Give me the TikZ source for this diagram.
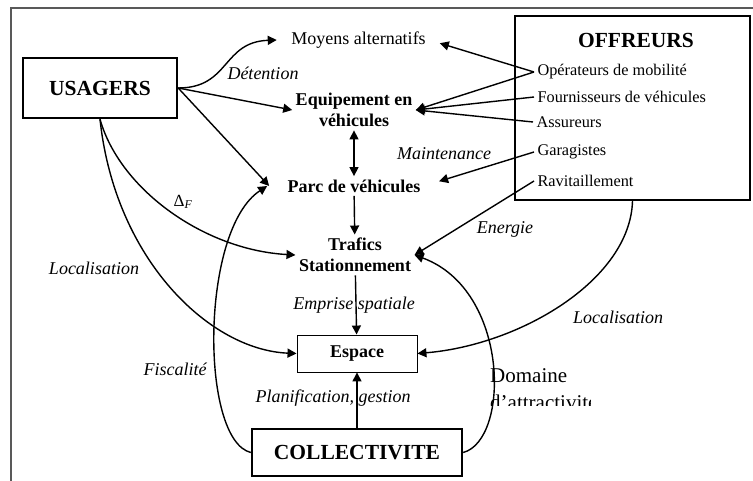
\documentclass[tikz,border=0pt]{standalone}
\usepackage{fontspec}
\setmainfont{Liberation Serif}
\usetikzlibrary{arrows.meta}
\tikzset{
	>={Triangle[length=9pt,width=9pt]},
	arr/.style={line width=1.4pt, ->},
	box/.style={draw, line width=2.4pt, font=\fontsize{21.5}{24}\selectfont\bfseries},
	bnode/.style={align=center, font=\fontsize{18}{21}\selectfont\bfseries},
	item/.style={anchor=west, font=\fontsize{16.3}{19}\selectfont},
	lbl/.style={font=\fontsize{18}{21}\selectfont\itshape},
}

\begin{document}
\begin{tikzpicture}[x=1pt, y=-1pt]
			%%%%% START %%%%%
			
			\useasboundingbox (0,0) rectangle (753,481);
			\draw[black!65, line width=1.4pt] (11,481) -- (11,8) -- (753,8);
			
			\node[box, minimum width=154, minimum height=60] (usagers) at (100,88) {USAGERS};
			\node[draw, line width=2.4pt, minimum width=235, minimum height=184] (offreurs) at (632.5,108) {};
			\node[font=\fontsize{21.5}{24}\selectfont\bfseries] (offtitle) at (636,40) {OFFREURS};
			\node[box, minimum width=210, minimum height=47] (collectivite) at (357,452.5) {COLLECTIVITE};
			
			\node[font=\fontsize{18}{21}\selectfont] (moyens) at (358.5,40) {Moyens alternatifs};
			\node[bnode] (equip) at (354,110) {Equipement en\\véhicules};
			\node[bnode] (parc) at (354,186) {Parc de véhicules};
			\node[bnode] (trafics) at (355,255) {Trafics\\Stationnement};
			\node[bnode, draw, line width=0.9pt, minimum width=120, minimum height=37] (espace) at (357,353.5) {Espace};
			
			\node[item] (operateurs) at (534,72) {Opérateurs de mobilité};
			\node[item] (fournisseurs) at (534,97) {Fournisseurs de véhicules};
			\node[item] (assureurs) at (533,122) {Assureurs};
			\node[item] (garagistes) at (534,152) {Garagistes};
			\node[item] (ravitaillement) at (534,181) {Ravitaillement};
			
			\draw[arr] (usagers.east) .. controls (230,88) and (222,42) .. ([xshift=-11pt]moyens.west);
			\draw[arr] (usagers.east) -- (equip.west);
			\draw[arr] (usagers.east) -- ([xshift=-15pt]parc.west);
			\draw[arr] (usagers.south) .. controls (120,190) and (205,250) .. (trafics.west);
			\draw[arr] (usagers.south) .. controls (115,260) and (210,350) .. (espace.west);
			
			\draw[arr, <->] (equip) -- (parc);
			\draw[arr] (parc) -- (trafics);
			\draw[arr] (trafics) -- (espace);
			\draw[arr] (collectivite) -- (espace);
			
			\draw[arr] (collectivite.west) .. controls (200,440) and (200,230) .. ([xshift=-17pt]parc.west);
			\draw[arr] (collectivite.east) .. controls (510,440) and (510,290) .. (trafics.east);
			\draw[arr] (offreurs.south) .. controls (630,280) and (520,345) .. (espace.east);
			
			\draw[arr, shorten >=11pt] (operateurs.west) -- (moyens.east);
			\draw[arr] (operateurs.west) -- (equip.east);
			\draw[arr] (fournisseurs.west) -- (equip.east);
			\draw[arr] (assureurs.west) -- (equip.east);
			\draw[arr, shorten >=16pt] (garagistes.west) -- (parc.east);
			\draw[arr] (ravitaillement.west) -- (trafics.east);
			
			\node[lbl] (detention) at (263,73) {Détention};
			\node[font=\fontsize{17}{20}\selectfont] (deltaf) at (183,202) {Δ\textsubscript{\itshape F}};
			\node[lbl] (maintenance) at (444,154) {Maintenance};
			\node[lbl] (energie) at (505,229) {Energie};
			\node[lbl] (locgauche) at (94,268) {Localisation};
			\node[lbl] (emprise) at (354,305) {Emprise spatiale};
			\node[lbl] (locdroite) at (618,317) {Localisation};
			\node[lbl] (fiscalite) at (175,369) {Fiscalité};
			\node[lbl] (planif) at (333,398) {Planification, gestion};
			
			\begin{scope}
				\clip (480,355) rectangle (590,405);
				\node[anchor=north west, align=left, inner sep=0pt, font=\fontsize{21}{27}\selectfont] (domaine) at (490,368) {Domaine\\d'attractivité};
			\end{scope}
			
			%%%%% END %%%%%
\end{tikzpicture}
\end{document}
